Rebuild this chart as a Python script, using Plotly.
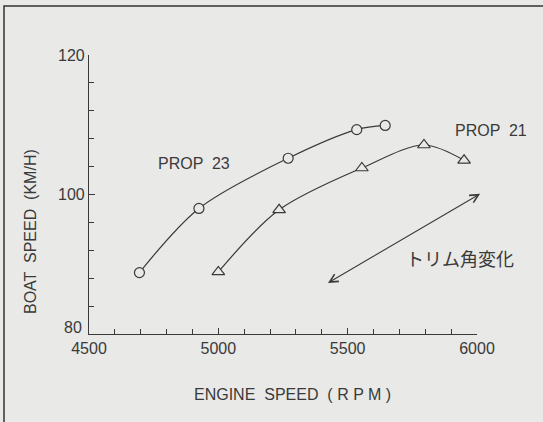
import plotly.graph_objects as go

# ---- data ----
rpm_prop23 = [4695, 4925, 5270, 5535, 5645]
speed_prop23 = [88.8, 98.0, 105.2, 109.3, 109.9]
rpm_prop21 = [5000, 5235, 5555, 5795, 5950]
speed_prop21 = [88.9, 97.8, 103.8, 107.1, 104.9]

x_ticks = [4500, 5000, 5500, 6000]
y_ticks = [80, 100, 120]
y_ticktext = ["", "100", "120"]   # "80" drawn as a lifted annotation like in the reference

INK = "#3a3a3a"
BG = "#e9e9e7"
FONT = "Liberation Sans, Arial, sans-serif"

# plot-area geometry in page pixels (used for paper-referenced texts)
L, R, T, B = 89, 477, 55, 334
def px(xp):
    return (xp - L) / (R - L)
def py(yp):
    return (B - yp) / (B - T)

fig = go.Figure()

fig.add_trace(go.Scatter(
    x=rpm_prop23, y=speed_prop23, mode="lines+markers",
    line=dict(color=INK, width=1.2, shape="spline", smoothing=0.9),
    marker=dict(symbol="circle", size=10, color=BG, line=dict(color=INK, width=1.2)),
    showlegend=False, cliponaxis=False, hoverinfo="skip",
))
fig.add_trace(go.Scatter(
    x=rpm_prop21, y=speed_prop21, mode="lines+markers",
    line=dict(color=INK, width=1.2, shape="spline", smoothing=0.9),
    marker=dict(symbol="triangle-up", size=11, color=BG, line=dict(color=INK, width=1.2)),
    showlegend=False, cliponaxis=False, hoverinfo="skip",
))

def label(x, y, text, xref="paper", yref="paper", **kw):
    font = kw.pop("font", dict(family=FONT, size=16, color=INK))
    fig.add_annotation(x=x, y=y, xref=xref, yref=yref, text=text, showarrow=False,
                       xanchor=kw.pop("xanchor", "center"), yanchor=kw.pop("yanchor", "middle"),
                       font=font, **kw)

# series labels
label(4906, 104.5, "PROP  23", xref="x", yref="y")
label(px(491), py(130), "PROP  21")
# trim angle label
label(5934, 90.9, "トリム角変化", xref="x", yref="y",
      font=dict(family="Noto Sans CJK JP", size=18, color=INK))
# double-headed arrow
fig.add_annotation(x=6012, y=100.1, ax=5418, ay=87.2, xref="x", yref="y", axref="x", ayref="y",
                   text="", showarrow=True, arrowhead=5, startarrowhead=5, arrowside="end+start",
                   arrowsize=1.5, startarrowsize=1.5, arrowwidth=1.1, arrowcolor=INK)

# lifted "80" y tick label
label(px(84), 80, "80", yref="y", yshift=7, xanchor="right")

# axis titles
label(px(292), py(394), "ENGINE  SPEED  ( R P M )")
label(px(30), py(232), "BOAT  SPEED  (KM/H)", textangle=-90)

# scan frame (left and top border)
fig.add_shape(type="path", xref="paper", yref="paper",
              path=f"M {px(4)} {py(430)} L {px(4)} {py(6)} L {px(560)} {py(6)}",
              line=dict(color="#333333", width=1.5))

fig.update_layout(
    width=543, height=422,
    margin=dict(l=L, r=543 - R, t=T, b=422 - B),
    paper_bgcolor=BG, plot_bgcolor=BG,
    font=dict(family=FONT, size=16, color=INK),
    hovermode=False,
    xaxis=dict(range=[4500, 6000], tickvals=x_ticks, ticktext=[str(v) for v in x_ticks],
               showline=True, linecolor=INK, linewidth=1.2, showgrid=False, zeroline=False,
               ticks="inside", ticklen=6, tickcolor=INK,
               minor=dict(dtick=100, tick0=4500, ticks="inside", ticklen=5, tickcolor=INK, showgrid=False),
               tickfont=dict(family=FONT, size=16, color=INK)),
    yaxis=dict(range=[80, 120], tickvals=y_ticks, ticktext=y_ticktext,
               showline=True, linecolor=INK, linewidth=1.2, showgrid=False, zeroline=False,
               ticks="inside", ticklen=6, tickcolor=INK,
               minor=dict(dtick=4, tick0=80, ticks="inside", ticklen=5, tickcolor=INK, showgrid=False),
               tickfont=dict(family=FONT, size=16, color=INK)),
)

fig.write_html("out.html", config={"displayModeBar": False},
               post_script="document.body.style.margin='0px';document.body.style.background='%s';" % BG)
